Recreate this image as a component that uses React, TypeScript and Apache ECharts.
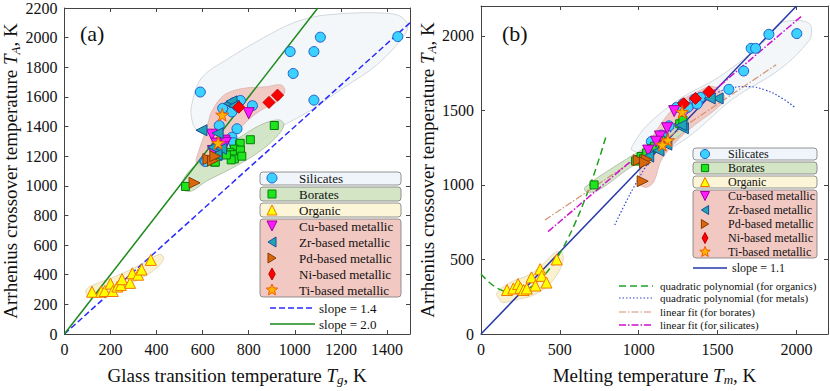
import React, { useEffect, useRef } from "react";
import * as echarts from "echarts";

const FONT = "Liberation Serif, Times New Roman, serif";

// ---------------- Panel (a): glass transition Tg vs Arrhenius crossover TA ----------------
const aSilicates = [[590,1633],[764,1576],[687,1523],[727,1499],[734,1560],[816,1541],[752,1535],[672,1407],[749,1385],[727,1328],[738,1280],[735,1291],[609,1167],[613,1164],[674,1204],[980,1906],[1083,1906],[993,1758],[1083,1578],[1111,2003],[1447,2007]];
const aBorates = [[526,996],[911,1407],[807,1311],[760,1280],[763,1287],[738,1248],[717,1226],[753,1215],[734,1210],[738,1182],[724,1175],[703,1208],[764,1241],[652,1160],[655,1160],[688,1259],[770,1200]];
const aOrganic = [[120,285],[160,285],[175,290],[200,340],[210,290],[230,320],[245,330],[250,370],[285,345],[295,410],[320,400],[335,435],[375,500]];
const aCu = [[800,1490],[640,1345],[695,1305],[660,1285],[645,1235],[700,1290],[690,1260]];
const aZr = [[715,1555],[725,1570],[735,1540],[595,1375],[665,1355],[645,1260],[680,1250],[660,1210]];
const aPd = [[565,1020],[625,1180],[645,1170],[655,1200]];
const aNi = [[757,1530],[888,1563],[925,1612]];
const aTi = [[685,1480],[667,1290]];
const aSlope14 = [[0,0],[1500,2100]];
const aSlope20 = [[0,0],[1100,2200]];

// shaded group regions (data coordinates)
const aBlobSilicates = [[552,1543],[595,1727],[711,1858],[853,1989],[996,2101],[1142,2154],[1427,2160],[1487,2101],[1478,2022],[1358,1819],[1211,1661],[1069,1510],[918,1379],[789,1248],[659,1313],[573,1379],[552,1458]];
const aBlobMetallic = [[638,1497],[690,1609],[767,1655],[875,1668],[940,1681],[957,1642],[931,1576],[853,1510],[789,1431],[733,1326],[681,1215],[616,1129],[573,1149],[586,1248],[608,1346],[625,1431]];
const aBlobBorates = [[517,972],[509,1018],[552,1116],[638,1215],[746,1313],[853,1412],[931,1445],[953,1412],[918,1326],[832,1215],[724,1116],[616,1031],[552,965]];
const aBlobOrganic = [[99,263],[95,302],[142,341],[250,407],[358,492],[414,538],[431,512],[401,446],[315,361],[207,295],[129,249]];

// ---------------- Panel (b): melting Tm vs Arrhenius crossover TA ----------------
const bSilicates = [[2002,2015],[1825,2010],[1713,1916],[1741,1916],[1665,1764],[1571,1641],[1392,1587],[1354,1575],[1280,1543],[1312,1521],[1371,1543],[1192,1396],[1143,1334],[1080,1291],[1240,1520]];
const bBorates = [[717,1000],[980,1160],[1000,1170],[1015,1190],[1030,1175],[1050,1215],[1080,1245],[1100,1260],[1140,1300],[1260,1410],[1280,1435]];
const bOrganic = [[165,295],[205,305],[235,335],[250,310],[270,295],[290,305],[320,380],[345,325],[375,435],[385,390],[415,345],[480,500]];
const bCu = [[1225,1495],[1135,1325],[1110,1290],[1060,1230],[1180,1380]];
const bZr = [[1500,1580],[1450,1580],[1280,1380],[1270,1400],[1175,1270],[1125,1230],[1025,1170],[1060,1190]];
const bPd = [[1025,1025],[1050,1170],[1000,1165],[1040,1150]];
const bNi = [[1285,1545],[1360,1580],[1445,1625]];
const bTi = [[1275,1490],[1185,1300],[1150,1270]];
const bSlope11 = [[0,0],[2000,2200]];
const bQuadOrganics = [[0,403],[50,349],[100,310],[150,286],[200,277],[250,283],[300,305],[350,342],[400,393],[450,460],[500,542],[550,639],[600,752],[650,879],[700,1022],[750,1179],[795,1334]];
const bQuadMetals = [[848,731],[900,845],[1000,1043],[1100,1213],[1200,1356],[1300,1472],[1400,1560],[1500,1620],[1600,1653],[1670,1660],[1700,1659],[1800,1637],[1900,1587],[1987,1522]];
const bLinBorates = [[405,764],[1871,1806]];
const bLinSilicates = [[425,687],[2036,2135]];

const bBlobSilicates = [[2082,2082],[2019,2102],[1892,2082],[1785,1951],[1513,1727],[1259,1576],[1051,1398],[962,1266],[956,1234],[1089,1201],[1304,1313],[1595,1576],[1892,1773],[2082,1970],[2095,2049]];
const bBlobMetallic = [[1468,1661],[1544,1595],[1513,1530],[1304,1358],[1150,1180],[1095,1020],[1051,985],[1010,1000],[1005,1069],[1025,1201],[1133,1398],[1259,1556],[1367,1622]];
const bBlobBorates = [[658,983],[835,1115],[1006,1227],[1177,1332],[1278,1424],[1310,1444],[1304,1378],[1152,1247],[943,1115],[753,970],[671,951]];
const bBlobOrganic = [[120,227],[100,273],[184,345],[310,400],[405,480],[475,550],[515,545],[515,470],[449,350],[342,265],[215,228],[139,210]];

const groupNames = ["Silicates","Borates","Organic","Cu-based metallic","Zr-based metallic","Pd-based metallic","Ni-based metallic","Ti-based metallic"];
const aGroups = [aSilicates,aBorates,aOrganic,aCu,aZr,aPd,aNi,aTi];
const bGroups = [bSilicates,bBorates,bOrganic,bCu,bZr,bPd,bNi,bTi];

const STAR = "path://M50,0L61,35L98,35L68,57L79,91L50,70L21,91L32,57L2,35L39,35Z";
const DOWN = "path://M0,0L10,0L5,9Z";
const LEFT = "path://M9,0L9,10L0,5Z";
const RIGHT = "path://M0,0L0,10L9,5Z";

const styles = [
  { kind: "circle", symbol: "circle", size: 10, color: "#3cd2ff", border: "#1f5fc8" },
  { kind: "rect", symbol: "rect", size: 8, color: "#1ee61e", border: "#0a7a0a" },
  { kind: "up", symbol: "triangle", size: 11, color: "#ffff00", border: "#f07800" },
  { kind: "down", symbol: DOWN, size: 11, color: "#ff1aff", border: "#a000a0" },
  { kind: "left", symbol: LEFT, size: 11, color: "#1fa5b5", border: "#1a4f9a" },
  { kind: "right", symbol: RIGHT, size: 11, color: "#d8680e", border: "#8a3a00" },
  { kind: "diamond", symbol: "diamond", size: 12, color: "#ff0000", border: "#c00000" },
  { kind: "star", symbol: STAR, size: 13, color: "#ffb400", border: "#f05a00" },
];

const blobStyle = {
  sil: { fill: "rgba(242,246,250,0.92)", stroke: "#c9ced5" },
  met: { fill: "rgba(240,190,183,0.8)", stroke: "#dab2ad" },
  bor: { fill: "rgba(205,226,190,0.85)", stroke: "#a8b89e" },
  org: { fill: "rgba(248,238,200,0.85)", stroke: "#dcd2b0" },
};

function blob(points: number[][], st: { fill: string; stroke: string }, axis: number) {
  return {
    type: "custom",
    xAxisIndex: axis,
    yAxisIndex: axis,
    z: 1,
    silent: true,
    data: points,
    encode: { x: 0, y: 1 },
    renderItem: (params: any, api: any) => {
      if (params.dataIndex !== 0) return null;
      return {
        type: "polygon",
        shape: { points: points.map((p) => api.coord(p)), smooth: 0.35 },
        style: { fill: st.fill, stroke: st.stroke, lineWidth: 0.8 },
      };
    },
  };
}

function lineSeries(data: number[][], axis: number, color: string, width: number, type: any, smooth = false) {
  return {
    type: "line",
    xAxisIndex: axis,
    yAxisIndex: axis,
    data,
    symbol: "none",
    smooth,
    z: 3,
    lineStyle: { color, width, type },
  };
}

function scatterSeries(groups: number[][][], axis: number) {
  return groups.map((d, i) => ({
    type: "scatter",
    name: groupNames[i],
    xAxisIndex: axis,
    yAxisIndex: axis,
    data: d,
    symbol: styles[i].symbol,
    symbolSize: styles[i].size,
    z: 5,
    itemStyle: { color: styles[i].color, borderColor: styles[i].border, borderWidth: 1, opacity: 1 },
  }));
}

function marker(kind: string, cx: number, cy: number, s: number, fill: string, stroke: string) {
  const h = s / 2;
  const style = { fill, stroke, lineWidth: 1 };
  const poly = (pts: number[][]) => ({ type: "polygon", z: 101, shape: { points: pts }, style });
  switch (kind) {
    case "circle": return { type: "circle", z: 101, shape: { cx, cy, r: h }, style };
    case "rect": return { type: "rect", z: 101, shape: { x: cx - h * 0.8, y: cy - h * 0.8, width: s * 0.8, height: s * 0.8 }, style };
    case "up": return poly([[cx, cy - h], [cx + h, cy + h], [cx - h, cy + h]]);
    case "down": return poly([[cx - h, cy - h], [cx + h, cy - h], [cx, cy + h]]);
    case "left": return poly([[cx + h * 0.8, cy - h], [cx + h * 0.8, cy + h], [cx - h * 0.8, cy]]);
    case "right": return poly([[cx - h * 0.8, cy - h], [cx - h * 0.8, cy + h], [cx + h * 0.8, cy]]);
    case "diamond": return poly([[cx, cy - h - 1], [cx + h * 0.65, cy], [cx, cy + h + 1], [cx - h * 0.65, cy]]);
    default: {
      const pts: number[][] = [];
      for (let k = 0; k < 10; k++) {
        const r = k % 2 === 0 ? h + 1 : (h + 1) * 0.45;
        const ang = -Math.PI / 2 + (k * Math.PI) / 5;
        pts.push([cx + r * Math.cos(ang), cy + r * Math.sin(ang)]);
      }
      return poly(pts);
    }
  }
}

function legendBlock(x: number, w: number, markerX: number, textX: number, fontSize: number, rows: number[], boxes: number[][], ms: number) {
  const els: any[] = [];
  const fills = ["#f0f5fb", "#d3e5c5", "#fcf5d8", "#f2c8c2"];
  boxes.forEach((b, i) => {
    els.push({ type: "rect", z: 100, shape: { x, y: b[0], width: w, height: b[1], r: 3 }, style: { fill: fills[i], stroke: "#7a7a7a", lineWidth: 0.8 } });
  });
  groupNames.forEach((n, i) => {
    els.push(marker(styles[i].kind, markerX, rows[i], ms, styles[i].color, styles[i].border));
    els.push({ type: "text", z: 101, style: { text: n, x: textX, y: rows[i], fontFamily: FONT, fontSize, fill: "#111", verticalAlign: "middle" } });
  });
  return els;
}

function legendLine(x1: number, x2: number, y: number, color: string, width: number, dash: any, label: string, textX: number, fontSize: number) {
  return [
    { type: "line", z: 101, shape: { x1, y1: y, x2, y2: y }, style: { stroke: color, lineWidth: width, lineDash: dash } },
    { type: "text", z: 101, style: { text: label, x: textX, y, fontFamily: FONT, fontSize, fill: "#111", verticalAlign: "middle" } },
  ];
}

const richName = (sub: string, before: string) => ({
  name: `{n|${before}}{i|T}{s|${sub}}{n|, K}`,
  nameTextStyle: {
    rich: {
      n: { fontFamily: FONT, fontSize: 19, color: "#111" },
      i: { fontFamily: FONT, fontSize: 19, fontStyle: "italic", color: "#111" },
      s: { fontFamily: FONT, fontSize: 13, fontStyle: "italic", color: "#111", padding: [9, 0, 0, 0] },
    },
  },
});

function axisBase(grid: number, min: number, max: number, interval: number, pos: string, labels: boolean, showMax: boolean) {
  return {
    type: "value",
    gridIndex: grid,
    min,
    max,
    interval,
    position: pos,
    axisLine: { onZero: false, lineStyle: { color: "#444", width: 1 } },
    axisTick: { inside: true, length: 4, lineStyle: { color: "#444" } },
    splitLine: { show: false },
    axisLabel: {
      show: labels,
      fontFamily: FONT,
      fontSize: 16,
      color: "#111",
      margin: 7,
      showMaxLabel: showMax,
      formatter: (v: number) => String(v),
    },
  };
}

export default function App() {
  const ref = useRef<HTMLDivElement>(null);
  useEffect(() => {
    if (!ref.current) return;
    const chart = echarts.init(ref.current, undefined, { renderer: "svg" });

    const graphic: any[] = [
      { type: "text", z: 101, style: { text: "(a)", x: 80, y: 33, fontFamily: FONT, fontSize: 22, fill: "#111", verticalAlign: "middle" } },
      { type: "text", z: 101, style: { text: "(b)", x: 502, y: 33, fontFamily: FONT, fontSize: 22, fill: "#111", verticalAlign: "middle" } },
      ...legendBlock(260, 141, 272, 299, 13, [178, 194, 210, 226, 242, 258, 274, 290], [[172, 13], [187, 14], [203, 14], [219, 78]], 10),
      ...legendLine(270, 315, 308, "#2a2aff", 1.5, [6, 3], "slope = 1.4", 319, 13),
      ...legendLine(270, 315, 324, "#1a8a1a", 1.5, null, "slope = 2.0", 319, 13),
      ...legendBlock(693, 124, 705, 728, 12, [154, 168, 182, 196, 210, 224, 238, 252], [[148, 12], [162, 12], [176, 12], [190, 68]], 9),
      ...legendLine(693, 727, 268, "#2537a8", 1.5, null, "slope = 1.1", 732, 12),
      ...legendLine(619, 653, 286, "#22a022", 1.5, [7, 4], "quadratic polynomial (for organics)", 660, 11),
      ...legendLine(619, 653, 298, "#3345cc", 1.2, [1.5, 2], "quadratic polynomial (for metals)", 660, 11),
      ...legendLine(619, 653, 312, "#d09070", 1.2, [7, 2, 1.5, 2], "linear fit (for borates)", 660, 11),
      ...legendLine(619, 653, 325, "#d010d0", 1.5, [7, 2, 1.5, 2], "linear fit (for silicates)", 660, 11),
    ];

    chart.setOption({
      animation: false,
      backgroundColor: "#fff",
      grid: [
        { left: 62, right: 420, top: 6, bottom: 51 },
        { left: 481, right: 2, top: 6, bottom: 51 },
      ],
      xAxis: [
        { ...axisBase(0, 0, 1500, 200, "bottom", true, false), ...richName("g", "Glass transition temperature "), nameLocation: "middle", nameGap: 30 },
        axisBase(0, 0, 1500, 200, "top", false, false),
        { ...axisBase(1, 0, 2200, 500, "bottom", true, false), ...richName("m", "Melting temperature "), nameLocation: "middle", nameGap: 30 },
        axisBase(1, 0, 2200, 500, "top", false, false),
      ],
      yAxis: [
        { ...axisBase(0, 0, 2200, 200, "left", true, true), ...richName("A", "Arrhenius crossover temperature "), nameLocation: "middle", nameGap: 40 },
        axisBase(0, 0, 2200, 200, "right", false, false),
        { ...axisBase(1, 0, 2200, 500, "left", true, false), ...richName("A", "Arrhenius crossover temperature "), nameLocation: "middle", nameGap: 36 },
        axisBase(1, 0, 2200, 500, "right", false, false),
      ],
      series: [
        blob(aBlobSilicates, blobStyle.sil, 0),
        blob(aBlobMetallic, blobStyle.met, 0),
        blob(aBlobBorates, blobStyle.bor, 0),
        blob(aBlobOrganic, blobStyle.org, 0),
        blob(bBlobSilicates, blobStyle.sil, 2),
        blob(bBlobMetallic, blobStyle.met, 2),
        blob(bBlobBorates, blobStyle.bor, 2),
        blob(bBlobOrganic, blobStyle.org, 2),
        lineSeries(aSlope14, 0, "#2a2aff", 1.5, [6, 3]),
        lineSeries(aSlope20, 0, "#1a8a1a", 1.5, "solid"),
        lineSeries(bSlope11, 2, "#2537a8", 1.5, "solid"),
        lineSeries(bQuadOrganics, 2, "#22a022", 1.5, [7, 4], true),
        lineSeries(bQuadMetals, 2, "#3345cc", 1.2, [1.5, 2], true),
        lineSeries(bLinBorates, 2, "#d09070", 1.2, [7, 2, 1.5, 2]),
        lineSeries(bLinSilicates, 2, "#d010d0", 1.5, [7, 2, 1.5, 2]),
        ...scatterSeries(aGroups, 0),
        ...scatterSeries(bGroups, 2),
      ],
      graphic,
    });
    return () => chart.dispose();
  }, []);
  return <div ref={ref} style={{ position: "fixed", left: 0, top: 0, width: 830, height: 391 }} />;
}
